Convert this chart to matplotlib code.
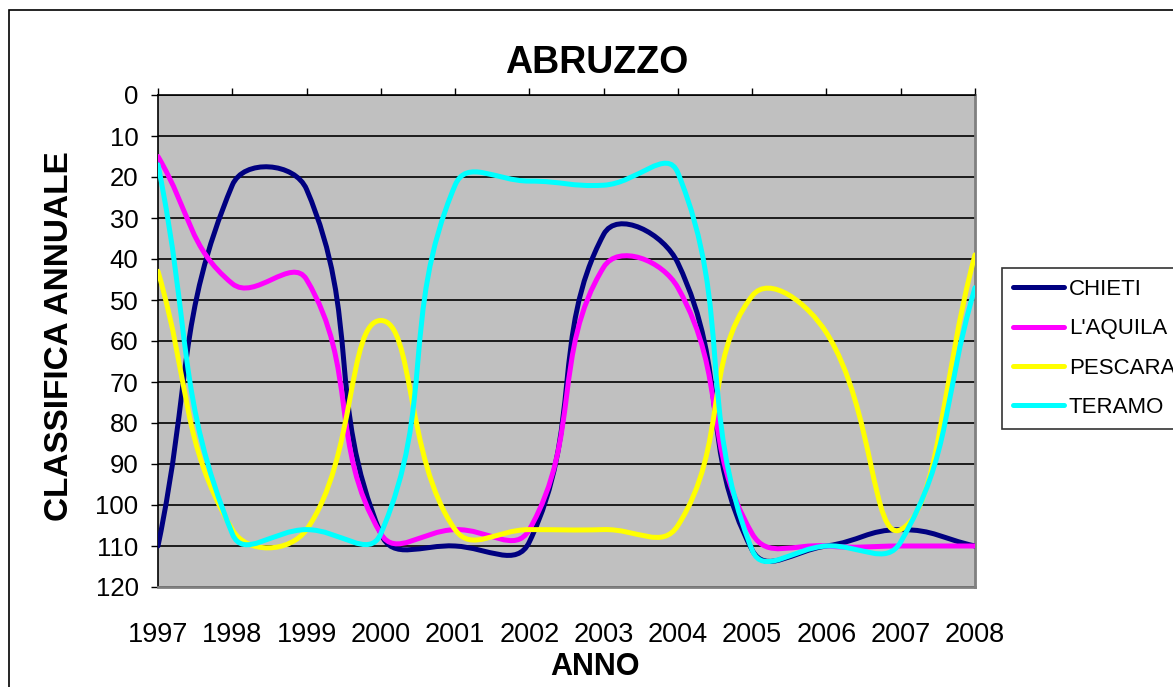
import numpy as np
import matplotlib
matplotlib.use('Agg')
import matplotlib.pyplot as plt
from matplotlib.path import Path
from matplotlib.patches import PathPatch, Rectangle
from matplotlib.lines import Line2D

plt.rcParams['font.family'] = ['Liberation Sans', 'DejaVu Sans']

# Dati: classifica annuale per provincia
anni = [1997, 1998, 1999, 2000, 2001, 2002, 2003, 2004, 2005, 2006, 2007, 2008]
chieti = [110, 22, 23, 107, 110, 109, 34, 41, 111, 110, 106, 110]
aquila = [15, 46, 45, 107, 106, 106, 42, 47, 107, 110, 110, 110]
pescara = [43, 106, 106, 55, 106, 106, 106, 105, 49, 58, 106, 39]
teramo = [17, 107, 106, 107, 22, 21, 22, 19, 111, 110, 109, 47]

nomi = ['CHIETI', "L'AQUILA", 'PESCARA', 'TERAMO']
colori = ['#000080', '#FF00FF', '#FFFF00', '#00FFFF']


# linea "smussata" come in Excel: curve di Bezier tra i punti
def linea_smussata(xs, ys, sx=74.3, sy=4.1, t=0.45):
    px = np.asarray(xs, float) * sx
    py = np.asarray(ys, float) * sy
    n = len(px)
    verts = [(px[0], py[0])]
    codes = [Path.MOVETO]
    for i in range(n - 1):
        i0 = max(i - 1, 0)
        i3 = min(i + 2, n - 1)
        d01 = np.hypot(px[i] - px[i0], py[i] - py[i0])
        d12 = np.hypot(px[i + 1] - px[i], py[i + 1] - py[i])
        d23 = np.hypot(px[i3] - px[i + 1], py[i3] - py[i + 1])
        f1 = d12 / (d01 + d12) if d01 + d12 > 0 else 0
        f2 = d12 / (d12 + d23) if d12 + d23 > 0 else 0
        c1 = (px[i] + (px[i + 1] - px[i0]) * t * f1, py[i] + (py[i + 1] - py[i0]) * t * f1)
        c2 = (px[i + 1] - (px[i3] - px[i]) * t * f2, py[i + 1] - (py[i3] - py[i]) * t * f2)
        verts += [c1, c2, (px[i + 1], py[i + 1])]
        codes += [Path.CURVE4] * 3
    verts = [(x / sx, y / sy) for x, y in verts]
    return Path(verts, codes)


fig = plt.figure(figsize=(11.73, 6.87), dpi=100)
W, H = 1173, 687
ax = fig.add_axes([158 / W, 1 - 587 / H, (975 - 158) / W, (587 - 95) / H])
ax.set_facecolor('#C0C0C0')

for nome, serie, col in zip(nomi, [chieti, aquila, pescara, teramo], colori):
    patch = PathPatch(linea_smussata(anni, serie), facecolor='none', edgecolor=col,
                      lw=3.6, capstyle='round', joinstyle='round', zorder=3)
    ax.add_patch(patch)

ax.set_xlim(1997, 2008)
ax.set_ylim(120, 0)
ax.set_yticks(range(0, 121, 10))
ax.set_xticks(anni)
ax.set_xticklabels([str(a) for a in anni])
ax.yaxis.grid(True, color='black', lw=1.2)
ax.set_axisbelow(True)

ax.tick_params(axis='y', direction='out', length=5, width=1, labelsize=18.5, pad=9)
ax.tick_params(axis='x', top=True, bottom=False, labeltop=False, labelbottom=True,
               direction='out', length=5, width=1, labelsize=19.5, pad=20)

ax.spines['top'].set_color('black')
ax.spines['left'].set_color('black')
ax.spines['top'].set_linewidth(1.2)
ax.spines['left'].set_linewidth(1.2)
ax.spines['bottom'].set_color('#808080')
ax.spines['right'].set_color('#808080')
ax.spines['bottom'].set_linewidth(2)
ax.spines['right'].set_linewidth(2)

fig.text(597 / W, 1 - 73 / H, 'ABRUZZO', fontsize=27, fontweight='bold',
         ha='center', va='baseline')
fig.text(595 / W, 1 - 675 / H, 'ANNO', fontsize=22, fontweight='bold',
         ha='center', va='baseline')
fig.text(68 / W, 1 - 336 / H, 'CLASSIFICA ANNUALE', fontsize=24, fontweight='bold',
         rotation=90, rotation_mode='anchor', ha='center', va='baseline')

# bordo del grafico
fig.patches.append(Rectangle((9 / W, -0.1), 1.2, 1.1 - 10 / H, transform=fig.transFigure,
                             fill=False, edgecolor='black', lw=1.2))

maniglie = [Line2D([], [], color=c, lw=3.6, solid_capstyle='round') for c in colori]
leg = fig.legend(maniglie, nomi, loc='upper left', bbox_to_anchor=(1002 / W, 1 - 268 / H),
                 borderaxespad=0, fontsize=16, frameon=True, fancybox=False,
                 handlelength=2.3, handletextpad=0.2, labelspacing=0.82,
                 borderpad=0.5)
leg.get_frame().set_edgecolor('black')
leg.get_frame().set_linewidth(1.2)

fig.savefig('out.png', dpi=100)
